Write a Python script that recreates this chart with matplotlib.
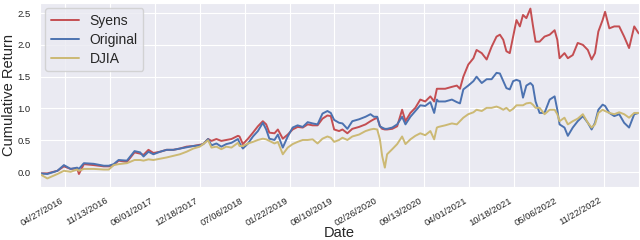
import matplotlib
matplotlib.use('Agg')
import matplotlib.pyplot as plt
import seaborn as sns
import pandas as pd
from matplotlib.ticker import FormatStrFormatter

dates = [
    '2016-01-04', '2016-02-07', '2016-03-23', '2016-04-21', '2016-05-21', '2016-06-19', '2016-06-27',
    '2016-07-19', '2016-09-01', '2016-10-16', '2016-11-07', '2016-11-29', '2016-12-21', '2017-01-27',
    '2017-03-02', '2017-03-27', '2017-04-11', '2017-05-03', '2017-05-25', '2017-06-24', '2017-07-23',
    '2017-08-22', '2017-09-20', '2017-10-20', '2017-11-19', '2017-12-18', '2018-01-02', '2018-01-24',
    '2018-02-08', '2018-03-02', '2018-03-24', '2018-04-15', '2018-05-08', '2018-06-06', '2018-06-13',
    '2018-06-28', '2018-07-21', '2018-08-12', '2018-09-03', '2018-09-25', '2018-10-10', '2018-10-24',
    '2018-11-16', '2018-12-01', '2018-12-23', '2019-01-14', '2019-02-05', '2019-02-27', '2019-03-22',
    '2019-04-13', '2019-05-05', '2019-05-27', '2019-06-18', '2019-07-10', '2019-07-25', '2019-08-09',
    '2019-08-31', '2019-09-15', '2019-10-07', '2019-10-29', '2019-11-28', '2019-12-27', '2020-01-18',
    '2020-02-02', '2020-02-17', '2020-02-29', '2020-03-10', '2020-03-22', '2020-04-01', '2020-04-24',
    '2020-05-16', '2020-06-07', '2020-06-22', '2020-07-14', '2020-08-05', '2020-08-27', '2020-09-18',
    '2020-10-11', '2020-10-28', '2020-11-09', '2020-11-16', '2020-12-16', '2021-01-15', '2021-02-06',
    '2021-02-20', '2021-03-07', '2021-03-29', '2021-04-21', '2021-05-05', '2021-05-28', '2021-06-19',
    '2021-07-11', '2021-08-02', '2021-08-17', '2021-09-01', '2021-09-15', '2021-09-30', '2021-10-15',
    '2021-10-30', '2021-11-14', '2021-11-28', '2021-12-13', '2021-12-31', '2022-01-11', '2022-01-23',
    '2022-02-10', '2022-03-04', '2022-03-27', '2022-04-18', '2022-04-30', '2022-05-10', '2022-06-01',
    '2022-06-16', '2022-07-08', '2022-07-30', '2022-08-22', '2022-09-13', '2022-09-30', '2022-10-15',
    '2022-10-30', '2022-11-18', '2022-11-29', '2022-12-18', '2023-01-09', '2023-01-31', '2023-02-22',
    '2023-03-16', '2023-04-08', '2023-04-28',
]

syens = [
    -0.02, -0.02, 0.02, 0.09, 0.05, 0.06, -0.03, 0.125, 0.11, 0.09, 0.09, 0.11, 0.18, 0.16, 0.31, 0.29,
    0.27, 0.35, 0.30, 0.32, 0.35, 0.35, 0.37, 0.40, 0.41, 0.43, 0.44, 0.52, 0.49, 0.52, 0.49, 0.505, 0.52, 0.57,
    0.56, 0.44, 0.525, 0.62, 0.72, 0.80, 0.75, 0.62, 0.61, 0.67, 0.525, 0.59, 0.67, 0.71, 0.70, 0.75, 0.735,
    0.735, 0.84, 0.89, 0.88, 0.67, 0.645,
    0.67, 0.61, 0.68, 0.71, 0.75, 0.80, 0.83, 0.855, 0.72, 0.68, 0.67, 0.67, 0.68, 0.72, 0.98, 0.80, 0.93,
    1.01, 1.14, 1.11, 1.19, 1.11, 1.31,
    1.31, 1.31, 1.34, 1.36, 1.31, 1.50, 1.69, 1.79, 1.92, 1.87, 1.77, 1.97, 2.13, 2.16, 2.08, 1.90, 1.87,
    2.13, 2.39, 2.29, 2.47, 2.42, 2.57, 2.31, 2.05,
    2.05, 2.13, 2.16, 2.23, 2.08, 1.79, 1.87, 1.79, 1.84, 2.03, 2.00, 1.92, 1.77, 1.87, 2.21, 2.39, 2.52,
    2.26, 2.29, 2.29, 2.13, 1.95, 2.29, 2.18,
]

original = [
    -0.02, -0.03, 0.02, 0.11, 0.05, 0.07, 0.05, 0.14, 0.13, 0.10, 0.10, 0.125, 0.19, 0.18, 0.33, 0.31,
    0.245, 0.32, 0.28, 0.32, 0.35, 0.35, 0.37, 0.39, 0.41, 0.42, 0.44, 0.52, 0.42, 0.45, 0.40, 0.44, 0.46, 0.52,
    0.46, 0.37, 0.45, 0.56, 0.645, 0.775, 0.67, 0.525, 0.505, 0.59, 0.385, 0.56, 0.70, 0.735, 0.71, 0.785,
    0.765, 0.75, 0.92, 0.96, 0.93, 0.82, 0.775,
    0.765, 0.68, 0.80, 0.83, 0.87, 0.91, 0.87, 0.87, 0.72, 0.70, 0.68, 0.68, 0.70, 0.75, 0.87, 0.75, 0.87,
    0.96, 1.05, 1.04, 1.10, 0.93, 1.14,
    1.11, 1.11, 1.14, 1.10, 1.08, 1.30, 1.36, 1.43, 1.50, 1.40, 1.46, 1.46, 1.56, 1.55, 1.43, 1.32, 1.30,
    1.43, 1.45, 1.43, 1.17, 1.36, 1.40, 1.36, 1.11,
    0.93, 0.93, 1.14, 1.19, 0.98, 0.75, 0.70, 0.57, 0.70, 0.80, 0.88, 0.775, 0.67, 0.775, 0.98, 1.06, 1.04,
    0.93, 0.88, 0.91, 0.775, 0.70, 0.91, 0.93,
]

djia = [
    -0.03, -0.10, -0.03, 0.02, 0.005, 0.04, 0.02, 0.05, 0.05, 0.04, 0.04, 0.11, 0.125, 0.14, 0.19, 0.19,
    0.18, 0.20, 0.19, 0.21, 0.23, 0.255, 0.28, 0.32, 0.37, 0.40, 0.44, 0.50, 0.385, 0.40, 0.36, 0.40, 0.385, 0.46,
    0.41, 0.41, 0.45, 0.475, 0.505, 0.525, 0.515, 0.49, 0.45, 0.475, 0.28, 0.385, 0.44, 0.475, 0.505, 0.505,
    0.515, 0.45, 0.525, 0.56, 0.54, 0.475, 0.505,
    0.54, 0.505, 0.56, 0.59, 0.645, 0.67, 0.68, 0.67, 0.515, 0.255, 0.07, 0.28, 0.36, 0.44, 0.56, 0.44, 0.515,
    0.57, 0.61, 0.58, 0.645, 0.515, 0.70,
    0.71, 0.735, 0.765, 0.75, 0.80, 0.855, 0.91, 0.94, 0.98, 0.96, 1.01, 1.01, 1.03, 1.01, 0.98, 1.01, 0.96,
    0.995, 1.05, 1.05, 1.05, 1.08, 1.09, 1.06, 1.01,
    1.01, 0.91, 0.98, 0.98, 0.91, 0.80, 0.855, 0.75, 0.80, 0.84, 0.91, 0.775, 0.70, 0.75, 0.93, 0.98, 0.96,
    0.93, 0.91, 0.94, 0.91, 0.855, 0.93, 0.93,
]

tick_labels = ['04/27/2016', '11/13/2016', '06/01/2017', '12/18/2017', '07/06/2018', '01/22/2019',
               '08/10/2019', '02/26/2020', '09/13/2020', '04/01/2021', '10/18/2021', '05/06/2022',
               '11/22/2022']

sns.set_style('darkgrid')
plt.rcParams['font.family'] = ['Liberation Sans', 'DejaVu Sans']

x = pd.to_datetime(dates)
ticks = pd.to_datetime(tick_labels, format='%m/%d/%Y')

fig, ax = plt.subplots(figsize=(6.4, 2.4), dpi=100)
fig.subplots_adjust(left=0.062, right=0.998, top=0.988, bottom=0.222)

ax.plot(x, syens, color='#C44E52', lw=1.4, label='Syens')
ax.plot(x, original, color='#4C72B0', lw=1.4, label='Original')
ax.plot(x, djia, color='#CCB974', lw=1.4, label='DJIA')

ax.set_xlim(x[0], x[-1])
ax.set_ylim(-0.23, 2.66)
ax.set_yticks([0.0, 0.5, 1.0, 1.5, 2.0, 2.5])
ax.yaxis.set_major_formatter(FormatStrFormatter('%.1f'))
ax.tick_params(axis='y', labelsize=6.8, pad=3)
ax.set_xticks(ticks)
ax.set_xticklabels(tick_labels, rotation=30, ha='right', fontsize=6.8)
ax.tick_params(axis='x', pad=3)

ax.set_xlabel('Date', fontsize=10.5, labelpad=-1)
ax.set_ylabel('Cumulative Return', fontsize=10.5, labelpad=1)
ax.legend(loc='upper left', fontsize=10, labelspacing=0.35, borderaxespad=0.4)

fig.savefig('out.png', dpi=100)
